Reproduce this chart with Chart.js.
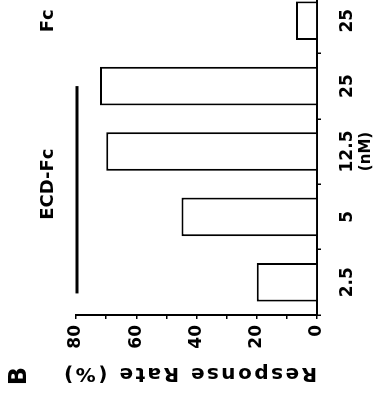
<!DOCTYPE html>
<html><head><meta charset="utf-8">
<script src="https://cdn.jsdelivr.net/npm/chart.js@4/dist/chart.umd.min.js"></script>
<style>
html,body{margin:0;padding:0;background:#fff;}
#wrap{position:relative;width:386px;height:400px;overflow:hidden;background:#fff;}
#box{position:absolute;left:0;top:0;width:420px;height:386px;transform-origin:0 0;transform:translate(0,400px) rotate(-90deg);}
</style></head><body>
<div id="wrap"><div id="box"><canvas id="c" width="420" height="386"></canvas></div></div>
<script>
// ---- data ----
const categories = ['2.5', '5', '12.5', '25', '25'];
const responseRate = [20, 45, 70, 72, 7];
const valueTicks = [0, 20, 40, 60, 80];
const groupLabels = ['ECD-Fc', 'Fc'];
const groupFrom = [0, 4];
const groupTo = [3, 4];
const groupHasLine = [true, false];
const panelLabel = 'B';
const yTitle = 'Response Rate (%)';
const xTitle = '(nM)';

Chart.defaults.font.family = '"DejaVu Sans", sans-serif';
Chart.defaults.color = '#000';

const annot = {
  id: 'annot',
  afterDraw(chart) {
    const {ctx, scales: {x, y}} = chart;
    const slot = x.getPixelForValue(1) - x.getPixelForValue(0);
    ctx.save();
    ctx.fillStyle = '#000';
    ctx.strokeStyle = '#000';
    ctx.font = 'bold 18px "DejaVu Sans"';
    ctx.textAlign = 'center';
    ctx.textBaseline = 'middle';
    groupLabels.forEach((lab, i) => {
      const cx = (x.getPixelForValue(groupFrom[i]) + x.getPixelForValue(groupTo[i])) / 2;
      ctx.fillText(lab, cx, y.top - 28);
      if (groupHasLine[i]) {
        ctx.lineWidth = 3;
        ctx.beginPath();
        const ly = y.getPixelForValue(valueTicks[valueTicks.length - 1]) + 1;
        ctx.moveTo(x.getPixelForValue(groupFrom[i]) - 0.17 * slot, ly);
        ctx.lineTo(x.getPixelForValue(groupTo[i]), ly);
        ctx.stroke();
      }
    });
    ctx.font = 'bold 24px "DejaVu Sans"';
    ctx.fillText(panelLabel, 24, 20);
    ctx.translate(32, y.bottom);
    ctx.rotate(-Math.PI / 2);
    ctx.font = 'bold 20px "DejaVu Sans"';
    ctx.letterSpacing = '2.5px';
    ctx.textAlign = 'left';
    ctx.textBaseline = 'alphabetic';
    ctx.fillText(yTitle, 0, 0);
    ctx.restore();
  }
};

new Chart(document.getElementById('c'), {
  type: 'bar',
  data: {
    labels: categories,
    datasets: [{
      data: responseRate,
      backgroundColor: '#fff',
      borderColor: '#000',
      borderWidth: 2,
      categoryPercentage: 1,
      barPercentage: 0.59
    }]
  },
  options: {
    responsive: false,
    animation: false,
    devicePixelRatio: 1,
    layout: {padding: {top: 76, right: 8, bottom: 0, left: 0}},
    plugins: {legend: {display: false}, tooltip: {enabled: false}},
    scales: {
      x: {
        type: 'category',
        offset: true,
        grid: {display: true, drawOnChartArea: false, drawTicks: true, tickLength: 4, color: '#000', lineWidth: 1.5, offset: true},
        border: {display: true, color: '#000', width: 2},
        ticks: {color: '#000', font: {weight: 'bold', size: 17}, padding: 16, maxRotation: 0, autoSkip: false},
        title: {display: true, text: xTitle, color: '#000', font: {weight: 'bold', size: 15}, padding: {top: 0, bottom: 11}},
        afterFit: s => { s.height = 69; }
      },
      y: {
        min: 0, max: 80,
        grid: {display: true, drawOnChartArea: false, drawTicks: true, tickLength: 4, color: '#000', lineWidth: 1.5},
        border: {display: true, color: '#000', width: 2},
        ticks: {
          stepSize: 10, color: '#000', padding: 6,
          font: {weight: 'bold', size: 17},
          callback: v => valueTicks.includes(v) ? String(v) : ''
        },
        afterFit: s => { s.width = 85; }
      }
    }
  },
  plugins: [annot]
});
</script>
</body></html>
